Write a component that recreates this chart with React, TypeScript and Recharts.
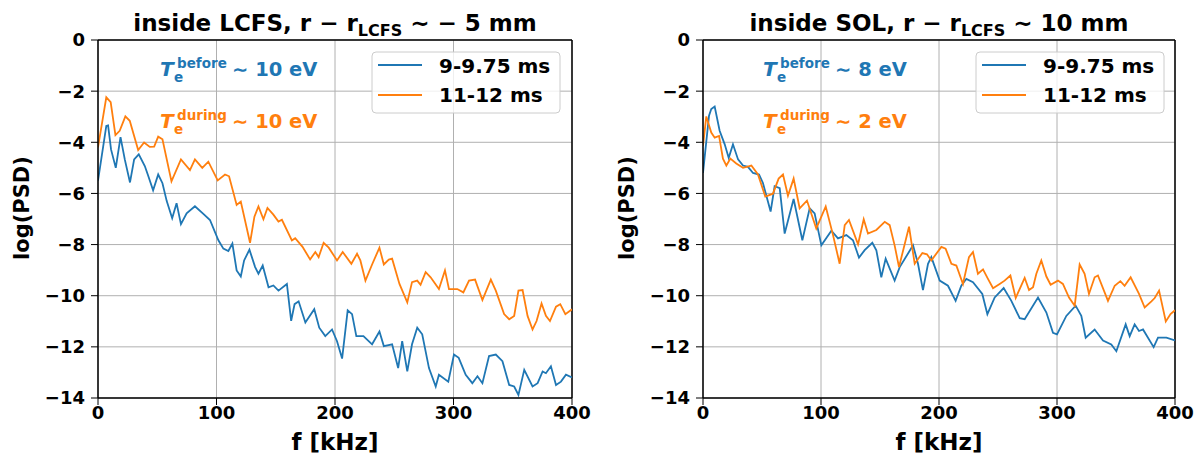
import { CartesianGrid, Line, LineChart, ReferenceLine, XAxis, YAxis } from 'recharts';

const BLUE = '#1f77b4';
const ORANGE = '#ff7f0e';
const FONT = '"DejaVu Sans", sans-serif';

const xTicks = [0, 100, 200, 300, 400];
const yTicks = [0, -2, -4, -6, -8, -10, -12, -14];
const seriesNames = ['9-9.75 ms', '11-12 ms'];

// inside LCFS, 9-9.75 ms
const lcfsBeforeF = [0, 7, 8.5, 11, 15, 19, 22.6, 27, 30.5, 34.4, 39.5, 42, 46.5, 50.8, 54.4, 58, 62.6, 66.3, 70, 74.8, 81.8, 88.9, 94.5, 101.6, 105.8, 110, 113.4, 117, 120.5, 123.3, 127.8, 132.6, 135.4, 139, 143.9, 148, 152.3, 159.4, 163, 165.9, 169.3, 175, 182.5, 186.7, 191.8, 197.5, 201.7, 206, 210.7, 214.4, 218, 224, 231.3, 237.5, 241.2, 248.2, 253.3, 256.7, 261, 265, 269.4, 273.6, 279.3, 285, 287.7, 295.6, 300.4, 304.4, 310.3, 315.9, 320.2, 324.4, 330, 335.7, 341.3, 347, 351.2, 354.8, 359.7, 366.7, 371, 375.2, 378, 382.2, 386.5, 390.7, 394.9, 400];
const lcfsBeforePsd = [-5.5, -3.36, -3.34, -4.28, -5.0, -3.8, -4.67, -5.57, -4.67, -4.47, -4.93, -5.26, -5.88, -5.26, -5.6, -6.3, -6.97, -6.38, -7.2, -6.78, -6.5, -6.8, -7.04, -7.83, -8.16, -8.25, -7.96, -9.01, -9.25, -8.62, -8.2, -8.88, -9.14, -8.82, -9.67, -9.6, -9.8, -9.54, -10.98, -10.33, -10.22, -11.05, -10.53, -11.25, -11.58, -11.32, -11.78, -12.46, -10.57, -10.72, -11.58, -11.58, -11.9, -11.4, -11.97, -11.9, -12.83, -11.78, -12.96, -11.9, -11.25, -11.51, -12.83, -13.55, -13.09, -13.36, -12.3, -12.43, -13.09, -13.42, -13.15, -13.42, -12.36, -12.3, -12.56, -13.49, -13.55, -13.88, -12.9, -13.55, -13.42, -12.96, -13.03, -12.76, -13.49, -13.36, -13.09, -13.2];

// inside LCFS, 11-12 ms
const lcfsDuringF = [0, 7, 10.7, 14.7, 18.3, 23.1, 26.8, 33.9, 38.9, 43.7, 47.4, 50.8, 54.4, 62, 70, 77.6, 81.8, 88, 93.1, 101, 107.2, 110.6, 117, 120.5, 128.3, 132, 135.4, 139.6, 143, 148, 152.3, 155.2, 163.6, 166.4, 172.6, 179, 183.4, 186.2, 190.4, 194.7, 201.7, 206.5, 213.8, 218.6, 221.4, 225.7, 231.3, 237.5, 241.2, 245.4, 248.2, 254.4, 261, 265, 269.4, 272.2, 276.5, 280.7, 287.7, 292.8, 296.2, 303.2, 308.3, 313.1, 318.2, 324.4, 331.5, 335.7, 342.7, 347, 351.2, 354.8, 358.3, 362.5, 366.7, 370.1, 374.3, 378, 381.4, 386.5, 390.1, 394.4, 400];
const lcfsDuringPsd = [-4.2, -2.24, -2.43, -3.72, -3.55, -2.99, -3.16, -4.3, -4.01, -4.18, -4.17, -3.78, -3.88, -5.53, -4.67, -5.09, -4.67, -5.0, -4.76, -5.49, -5.26, -5.33, -6.45, -6.32, -7.93, -6.91, -6.51, -7.01, -6.57, -6.83, -7.1, -7.03, -7.84, -7.75, -8.09, -8.58, -8.29, -8.49, -7.93, -8.12, -8.62, -8.29, -8.75, -8.36, -8.62, -9.41, -8.78, -8.12, -8.78, -8.59, -8.55, -9.54, -10.26, -9.47, -9.41, -9.57, -9.08, -9.28, -9.74, -9.01, -9.74, -9.74, -9.87, -9.41, -9.37, -10.17, -9.37, -9.8, -10.72, -10.92, -10.79, -9.8, -9.78, -10.79, -11.32, -10.99, -10.3, -10.79, -10.99, -10.43, -10.33, -10.72, -10.53];

// inside SOL, 9-9.75 ms
const solBeforeF = [0, 5.1, 7, 9.9, 14.1, 18.4, 21.8, 25.4, 29.7, 33.9, 38.1, 42.4, 47.5, 50.8, 57.3, 60.7, 65, 69.2, 76.8, 84.2, 90.4, 94.6, 100.3, 108.8, 114.4, 121.5, 127.1, 132.2, 137, 143.5, 146.9, 151.1, 154.8, 162.4, 166.7, 178, 182.2, 186.4, 190.7, 193.5, 200.6, 207.6, 214.1, 218.9, 223.2, 228.8, 236.7, 241, 247.2, 254.8, 261.3, 268.4, 272.6, 283.9, 291, 296.6, 300, 307.9, 315.8, 320.6, 324.3, 331.9, 339, 346, 350.3, 358.2, 361.6, 365.8, 369.5, 372.9, 381.9, 385.6, 392.7, 400];
const solBeforePsd = [-5.2, -2.96, -2.7, -2.6, -3.55, -4.08, -4.61, -4.08, -4.67, -4.91, -4.96, -5.2, -5.26, -5.59, -6.71, -5.72, -5.79, -7.57, -6.22, -7.83, -6.58, -6.78, -8.03, -7.46, -7.76, -7.63, -7.83, -8.51, -8.22, -7.93, -8.22, -9.28, -8.55, -9.41, -8.88, -8.03, -8.75, -9.78, -8.75, -8.49, -9.41, -9.61, -10.2, -9.61, -9.34, -9.47, -9.93, -10.72, -10.07, -9.7, -10.2, -10.88, -10.92, -10.07, -10.66, -11.45, -11.51, -10.79, -10.39, -10.79, -11.64, -11.32, -11.75, -11.91, -12.17, -11.12, -11.58, -11.12, -11.38, -11.32, -12.01, -11.64, -11.64, -11.75];

// inside SOL, 11-12 ms
const solDuringF = [0, 2.8, 7, 9.9, 13.6, 16.9, 19.8, 23.2, 28.2, 33.9, 41, 46.6, 52.8, 59.3, 64.1, 67.8, 72, 76.8, 81.9, 88.1, 96, 104, 110.2, 115.8, 120.1, 123.7, 131.4, 136.2, 139.8, 146.9, 154, 158.2, 162.4, 166.1, 174.6, 179.4, 185.9, 189.8, 193.5, 202, 205.6, 210.5, 214.7, 220.3, 225.4, 228.8, 233, 237.3, 241.5, 245.8, 251.4, 255.6, 260.5, 265, 272.6, 276.3, 279.7, 282.5, 286.7, 291, 294.6, 300.8, 305, 310.2, 315, 319.2, 323.4, 327.1, 331.9, 334.7, 343.2, 348.9, 353.7, 357.3, 362.4, 369.5, 374.3, 380, 382.8, 386.5, 392.2, 396.2, 400];
const solDuringPsd = [-4.14, -2.99, -3.62, -3.82, -3.75, -4.64, -4.91, -4.64, -4.83, -5.0, -4.91, -5.26, -6.12, -6.01, -5.42, -5.26, -6.09, -5.42, -6.58, -6.28, -7.37, -6.51, -7.63, -8.75, -7.24, -7.04, -7.99, -7.01, -7.57, -7.43, -7.11, -7.24, -8.03, -8.88, -7.3, -8.75, -8.33, -8.38, -8.62, -8.09, -8.16, -8.75, -8.82, -9.54, -8.49, -8.29, -9.14, -8.97, -9.34, -9.71, -9.54, -9.41, -9.21, -10.09, -9.3, -9.78, -9.67, -9.14, -8.62, -9.25, -9.57, -9.41, -9.54, -10.07, -10.39, -8.78, -9.14, -9.93, -9.28, -9.21, -10.2, -9.61, -9.43, -9.61, -9.28, -9.93, -10.46, -10.22, -10.09, -9.8, -11.01, -10.72, -10.57];

const toPoints = (f: number[], psd: number[]) => f.map((v, i) => ({ f: v, psd: psd[i] }));

const formatTick = (v: number) => (v < 0 ? `\u2212${Math.abs(v)}` : `${v}`);

const tickStyle = { fill: '#000', fontSize: 18, fontWeight: 'bold' as const, fontFamily: FONT };

interface PanelProps {
  left: number;
  rightMargin: number;
  before: { f: number; psd: number }[];
  during: { f: number; psd: number }[];
}

function PsdPanel({ left, rightMargin, before, during }: PanelProps) {
  return (
    <div style={{ position: 'absolute', left, top: 0 }}>
      <LineChart
        width={600}
        height={461}
        margin={{ top: 40, right: rightMargin, bottom: 33, left: 38 }}
        style={{ fontFamily: FONT }}
      >
        <CartesianGrid stroke="#b0b0b0" strokeWidth={1} />
        <XAxis
          dataKey="f"
          type="number"
          domain={[0, 400]}
          ticks={xTicks}
          allowDataOverflow
          height={30}
          tick={tickStyle}
          tickSize={7}
          tickMargin={1}
          axisLine={{ stroke: '#000', strokeWidth: 1.5 }}
          tickLine={{ stroke: '#000' }}
        />
        <YAxis
          type="number"
          domain={[-14, 0]}
          ticks={yTicks}
          allowDataOverflow
          width={60}
          tick={tickStyle}
          tickSize={7}
          tickMargin={6}
          tickFormatter={formatTick}
          axisLine={{ stroke: '#000', strokeWidth: 1.5 }}
          tickLine={{ stroke: '#000' }}
        />
        <ReferenceLine y={0} stroke="#000" strokeWidth={1.5} />
        <ReferenceLine x={400} stroke="#000" strokeWidth={1.5} />
        <Line
          data={before}
          dataKey="psd"
          stroke={BLUE}
          strokeWidth={1.8}
          dot={false}
          isAnimationActive={false}
        />
        <Line
          data={during}
          dataKey="psd"
          stroke={ORANGE}
          strokeWidth={1.8}
          dot={false}
          isAnimationActive={false}
        />
      </LineChart>
    </div>
  );
}

function TeNote({ x, y, color, label, value }: { x: number; y: number; color: string; label: string; value: string }) {
  return (
    <g fill={color} fontFamily={FONT} fontWeight="bold">
      <text x={x} y={y} fontSize={20} fontStyle="italic">T</text>
      <text x={x + 17} y={y - 8} fontSize={13.5}>{label}</text>
      <text x={x + 14} y={y + 6} fontSize={13.5}>e</text>
      <text x={x + 72} y={y} fontSize={19.5}>{`\u223c ${value}`}</text>
    </g>
  );
}

function LegendBox({ x }: { x: number }) {
  return (
    <g>
      <rect x={x} y={52} width={188} height={61} rx={4} fill="#fff" fillOpacity={0.8} stroke="#cccccc" />
      <line x1={x + 6} x2={x + 50} y1={65} y2={65} stroke={BLUE} strokeWidth={2} />
      <line x1={x + 6} x2={x + 50} y1={95} y2={95} stroke={ORANGE} strokeWidth={2} />
      <text x={x + 67} y={73} fontSize={20} fontWeight="bold" fontFamily={FONT} fill="#000">{seriesNames[0]}</text>
      <text x={x + 67} y={102} fontSize={20} fontWeight="bold" fontFamily={FONT} fill="#000">{seriesNames[1]}</text>
    </g>
  );
}

function Title({ cx, pre, post }: { cx: number; pre: string; post: string }) {
  return (
    <text x={cx} y={31} textAnchor="middle" fontSize={23} fontWeight="bold" fontFamily={FONT} fill="#000">
      {pre}
      <tspan fontSize={16} dy={5}>LCFS</tspan>
      <tspan dy={-5}>{post}</tspan>
    </text>
  );
}

export default function App() {
  return (
    <div style={{ position: 'absolute', left: 0, top: 0, width: 1203, height: 461, background: '#fff', overflow: 'hidden' }}>
      <PsdPanel left={0} rightMargin={28} before={toPoints(lcfsBeforeF, lcfsBeforePsd)} during={toPoints(lcfsDuringF, lcfsDuringPsd)} />
      <PsdPanel left={605} rightMargin={30} before={toPoints(solBeforeF, solBeforePsd)} during={toPoints(solDuringF, solDuringPsd)} />
      <svg width={1203} height={461} style={{ position: 'absolute', left: 0, top: 0, pointerEvents: 'none' }}>
        <Title cx={335} pre={'inside LCFS, r \u2212 r'} post={' \u223c  \u2212 5 mm'} />
        <Title cx={939} pre={'inside SOL, r \u2212 r'} post={' \u223c 10 mm'} />

        <TeNote x={160} y={76} color={BLUE} label="before" value="10 eV" />
        <TeNote x={160} y={128} color={ORANGE} label="during" value="10 eV" />
        <TeNote x={763} y={76} color={BLUE} label="before" value="8 eV" />
        <TeNote x={763} y={128} color={ORANGE} label="during" value="2 eV" />

        <LegendBox x={372} />
        <LegendBox x={976} />

        <text x={22} y={208} transform="rotate(-90 22 208)" textAnchor="middle" dominantBaseline="central" fontSize={21} fontWeight="bold" fontFamily={FONT}>log(PSD)</text>
        <text x={627} y={208} transform="rotate(-90 627 208)" textAnchor="middle" dominantBaseline="central" fontSize={21} fontWeight="bold" fontFamily={FONT}>log(PSD)</text>
        <text x={335} y={450} textAnchor="middle" fontSize={23} fontWeight="bold" fontFamily={FONT}>f [kHz]</text>
        <text x={939} y={450} textAnchor="middle" fontSize={23} fontWeight="bold" fontFamily={FONT}>f [kHz]</text>
      </svg>
    </div>
  );
}
